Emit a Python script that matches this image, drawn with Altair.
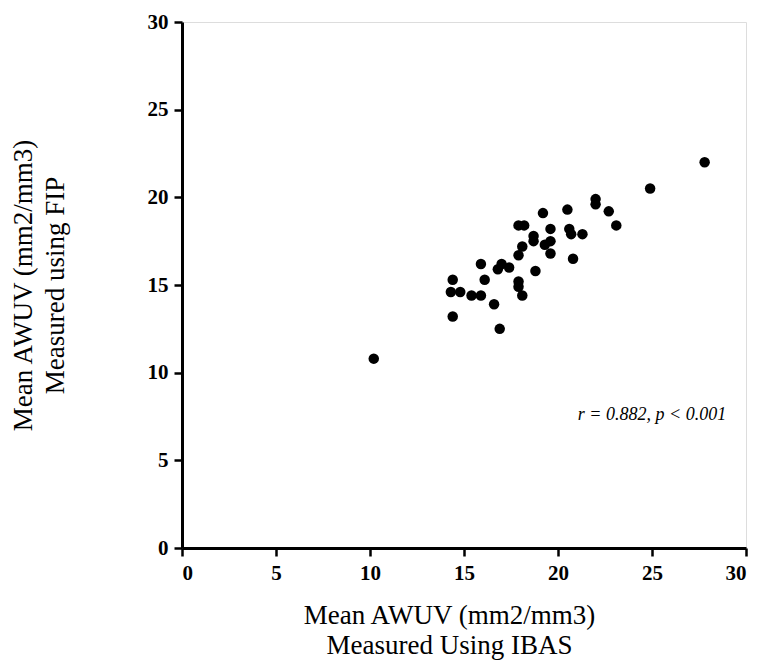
import altair as alt
import pandas as pd

ibas = [27.8, 24.9, 22.0, 22.0, 22.7, 23.1, 20.5, 19.2, 17.9, 18.2,
        19.6, 20.6, 20.7, 21.3, 18.7, 18.7, 19.6, 19.3, 18.1, 19.6,
        17.9, 20.8, 15.9, 17.0, 16.8, 17.4, 18.8, 14.4, 16.1, 17.9,
        17.9, 14.3, 14.8, 15.4, 15.9, 18.1, 16.6, 14.4, 16.9, 10.2]
fip = [22.0, 20.5, 19.9, 19.6, 19.2, 18.4, 19.3, 19.1, 18.4, 18.4,
       18.2, 18.2, 17.9, 17.9, 17.8, 17.5, 17.5, 17.3, 17.2, 16.8,
       16.7, 16.5, 16.2, 16.2, 15.9, 16.0, 15.8, 15.3, 15.3, 15.2,
       14.9, 14.6, 14.6, 14.4, 14.4, 14.4, 13.9, 13.2, 12.5, 10.8]

tick_values = [0, 5, 10, 15, 20, 25, 30]
x_title = ["Mean AWUV (mm2/mm3)", "Measured Using IBAS"]
y_title = ["Mean AWUV (mm2/mm3)", "Measured using FIP"]
note_text = ["r = 0.882, p < 0.001"]
note_x = [25.0]
note_y = [7.6]

df = pd.DataFrame({"ibas": ibas, "fip": fip})
note_df = pd.DataFrame({"x": note_x, "y": note_y, "t": note_text})

SERIF = "Liberation Serif"

axis_common = dict(
    values=tick_values,
    grid=False,
    domainColor="black",
    domainWidth=3,
    tickColor="black",
    tickWidth=2.5,
    tickSize=8,
    labelFont=SERIF,
    labelFontWeight="bold",
    labelFontSize=21,
    labelColor="black",
    titleFont=SERIF,
    titleFontWeight="normal",
    titleFontSize=27,
    titleColor="black",
)

xs = alt.Scale(domain=[0, 30], nice=False)
ys = alt.Scale(domain=[0, 30], nice=False)

points = alt.Chart(df).mark_circle(size=110, color="black", opacity=1).encode(
    x=alt.X("ibas:Q", scale=xs,
            axis=alt.Axis(title=x_title, labelPadding=6, titlePadding=19,
                          titleLineHeight=30, titleX=267, **axis_common)),
    y=alt.Y("fip:Q", scale=ys,
            axis=alt.Axis(title=y_title, labelPadding=6, titlePadding=78,
                          titleLineHeight=32, **axis_common)),
)

note = alt.Chart(note_df).mark_text(
    font=SERIF, fontStyle="italic", fontSize=18, color="black", align="center"
).encode(
    x=alt.X("x:Q", scale=xs),
    y=alt.Y("y:Q", scale=ys),
    text="t:N",
)

chart = (points + note).properties(
    width=564,
    height=526,
    padding={"left": 174, "top": 14, "right": 8, "bottom": 112},
    autosize=alt.AutoSizeParams(type="none"),
).configure_view(stroke=None).configure(background="white")

chart.save("out.html", embed_options={"renderer": "svg", "actions": False})
